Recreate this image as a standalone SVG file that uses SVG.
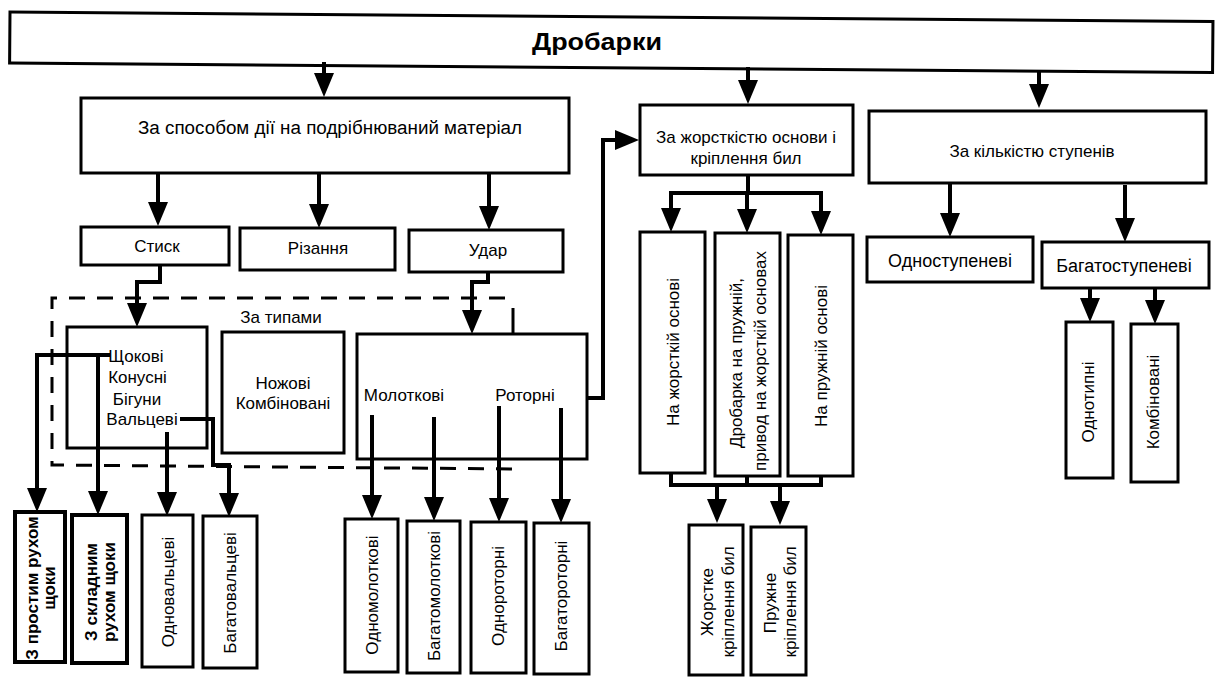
<svg xmlns="http://www.w3.org/2000/svg" width="1221" height="677" viewBox="0 0 1221 677">
<style>
.box{fill:#fff;stroke:#000;stroke-width:3}
.bx4{fill:#fff;stroke:#000;stroke-width:4}
.t{font-family:"Liberation Sans",Arial,sans-serif;font-size:17px;fill:#000;text-anchor:middle}
.tb{font-weight:bold}
.title{font-size:23px}
.t18{font-size:18px}
.ln{fill:none;stroke:#000;stroke-width:4;stroke-linejoin:miter}
.lns{fill:none;stroke:#000;stroke-width:4;stroke-linecap:square}
.ar{fill:none;stroke:#000;stroke-width:4;marker-end:url(#ah)}
.dash{fill:none;stroke:#000;stroke-width:3;stroke-dasharray:16 12}
</style>
<defs>
<marker id="ah" markerUnits="userSpaceOnUse" markerWidth="24" markerHeight="20" viewBox="0 0 24 20" refX="18" refY="10" orient="auto">
<path d="M0,0 L24,10 L0,20 z" fill="#000"/>
</marker>
</defs>
<rect width="1221" height="677" fill="#fff"/>

<g id="root">
<rect class="box" x="10" y="12" width="1203" height="51" transform="rotate(0.45 10 12)"/>
<text class="t tb title" x="597" y="50" textLength="130" lengthAdjust="spacingAndGlyphs">Дробарки</text>
</g>

<g id="n-sposib">
<rect class="box" x="81" y="98" width="488" height="75"/>
<text class="t t18" x="330" y="134" textLength="384" lengthAdjust="spacingAndGlyphs">За способом дії на подрібнюваний матеріал</text>
</g>
<g id="n-zhorst">
<rect class="box" x="640" y="105" width="213" height="70"/>
<text class="t" x="746" y="143">За жорсткістю основи і</text>
<text class="t" x="746" y="164">кріплення бил</text>
</g>
<g id="n-kilk">
<rect class="box" x="869" y="111" width="337" height="72"/>
<text class="t" x="1032" y="157">За кількістю ступенів</text>
</g>

<g id="n-stysk">
<rect class="box" x="81" y="227" width="148" height="38"/>
<text class="t" x="157" y="252">Стиск</text>
</g>
<g id="n-rizannia">
<rect class="box" x="240" y="228" width="155" height="42"/>
<text class="t" x="318" y="254">Різання</text>
</g>
<g id="n-udar">
<rect class="box" x="409" y="230" width="154" height="42"/>
<text class="t" x="488" y="256">Удар</text>
</g>

<g id="frame-typy">
<path class="dash" d="M505 298 H52 V465 L513 469 V460"/>
<path fill="none" stroke="#000" stroke-width="3" d="M513 308 V334"/>
<text class="t" x="281" y="323">За типами</text>
</g>

<g id="n-shchokovi">
<rect class="box" x="67" y="327" width="140" height="121"/>
<text class="t" x="136" y="362">Щокові</text>
<text class="t" x="137.5" y="383">Конусні</text>
<text class="t" x="137" y="405">Бігуни</text>
<text class="t" x="142" y="425">Вальцеві</text>
</g>
<g id="n-nozhovi">
<rect class="box" x="222" y="332" width="122" height="121"/>
<text class="t" x="283" y="389">Ножові</text>
<text class="t" x="283" y="409">Комбіновані</text>
</g>
<g id="n-molotkovi">
<rect class="box" x="357" y="334" width="230" height="125"/>
<text class="t" x="404" y="401">Молоткові</text>
<text class="t" x="525" y="401">Роторні</text>
</g>

<g id="n-na-zhorst">
<rect class="box" x="640" y="232" width="65" height="241"/>
<text class="t" transform="translate(679 352) rotate(-90)">На жорсткій основі</text>
</g>
<g id="n-drobarka">
<rect class="box" x="715" y="233" width="65" height="243"/>
<text class="t" transform="translate(742 363) rotate(-90)">Дробарка на пружній,</text>
<text class="t" transform="translate(766 361) rotate(-90)">привод на жорсткій основах</text>
</g>
<g id="n-na-pruzh">
<rect class="box" x="788" y="235" width="65" height="241"/>
<text class="t" transform="translate(827 356) rotate(-90)">На пружній основі</text>
</g>

<g id="n-odnostup">
<rect class="box" x="867" y="237" width="166" height="45"/>
<text class="t t18" x="950" y="267">Одноступеневі</text>
</g>
<g id="n-bagatostup">
<rect class="box" x="1042" y="242" width="167" height="46"/>
<text class="t t18" x="1124" y="272">Багатоступеневі</text>
</g>
<g id="n-odnotypni">
<rect class="box" x="1066" y="322" width="47" height="156"/>
<text class="t" transform="translate(1094 402) rotate(-90)">Однотипні</text>
</g>
<g id="n-kombinovani">
<rect class="box" x="1131" y="324" width="47" height="158"/>
<text class="t" transform="translate(1159 402) rotate(-90)">Комбіновані</text>
</g>

<g id="n-prostym">
<rect class="bx4" x="15" y="512" width="50" height="150"/>
<text class="t tb" transform="translate(37.5 588) rotate(-90)">З простим рухом</text>
<text class="t tb" transform="translate(54.5 588) rotate(-90)">щоки</text>
</g>
<g id="n-skladnym">
<rect class="bx4" x="72" y="515" width="55" height="148"/>
<text class="t tb" transform="translate(97 592) rotate(-90)">З складним</text>
<text class="t tb" transform="translate(115 592) rotate(-90)">рухом щоки</text>
</g>
<g id="n-odnovalc">
<rect class="box" x="142" y="515" width="51" height="152"/>
<text class="t" transform="translate(174 592) rotate(-90)">Одновальцеві</text>
</g>
<g id="n-bagatovalc">
<rect class="box" x="203" y="516" width="54" height="152"/>
<text class="t" transform="translate(236 593) rotate(-90)">Багатовальцеві</text>
</g>
<g id="n-odnomol">
<rect class="box" x="345" y="519" width="53" height="153"/>
<text class="t" transform="translate(377.5 595) rotate(-90)">Одномолоткові</text>
</g>
<g id="n-bagatomol">
<rect class="box" x="407" y="521" width="53" height="152"/>
<text class="t" transform="translate(440 596) rotate(-90)">Багатомолоткові</text>
</g>
<g id="n-odnorot">
<rect class="box" x="471" y="522" width="55" height="151"/>
<text class="t" transform="translate(504 596) rotate(-90)">Однороторні</text>
</g>
<g id="n-bagatorot">
<rect class="box" x="534" y="523" width="55" height="151"/>
<text class="t" transform="translate(567 596) rotate(-90)">Багатороторні</text>
</g>

<g id="n-zhorstke">
<rect class="box" x="689" y="525" width="54" height="150"/>
<text class="t" transform="translate(713 602) rotate(-90)">Жорстке</text>
<text class="t" transform="translate(734 602) rotate(-90)">кріплення бил</text>
</g>
<g id="n-pruzhne">
<rect class="box" x="751" y="527" width="55" height="148"/>
<text class="t" transform="translate(776 603) rotate(-90)">Пружне</text>
<text class="t" transform="translate(796 602) rotate(-90)">кріплення бил</text>
</g>

<g id="connectors">
<path class="ar" d="M324 62 V91"/>
<path class="ar" d="M748 67 V98"/>
<path class="ar" d="M1039 71 V102"/>
<path class="ar" d="M158 173 V220"/>
<path class="ar" d="M319 173 V222"/>
<path class="ar" d="M489 173 V224"/>
<path class="ar" d="M160 265 V282 H137 V321"/>
<path class="ar" d="M488 272 V282 H472 V328"/>
<path class="ar" d="M587 398 H603 V140 H633"/>
<path class="lns" d="M37 355 H108"/>
<path class="ar" d="M37 355 V506"/>
<path class="ar" d="M98 355 V509"/>
<path class="ar" d="M167 432 V510"/>
<path class="ar" d="M180 419 H213 V465 H229 V511"/>
<path class="ar" d="M372 415 V513"/>
<path class="ar" d="M434 417 V515"/>
<path class="ar" d="M499 406 V516"/>
<path class="ar" d="M561 408 V517"/>
<path class="ln" d="M748 175 V193"/>
<path class="lns" d="M671 193 H821"/>
<path class="ar" d="M671 193 V226"/>
<path class="ar" d="M747 193 V227"/>
<path class="ar" d="M821 193 V229"/>
<path class="ln" d="M671 473 V485 H821 V476"/>
<path class="ln" d="M747 476 V485"/>
<path class="ar" d="M717 485 V517"/>
<path class="ar" d="M780 485 V519"/>
<path class="ar" d="M950 183 V231"/>
<path class="ar" d="M1125 185 V236"/>
<path class="ar" d="M1090 288 V316"/>
<path class="ar" d="M1155 289 V318"/>
</g>
</svg>
